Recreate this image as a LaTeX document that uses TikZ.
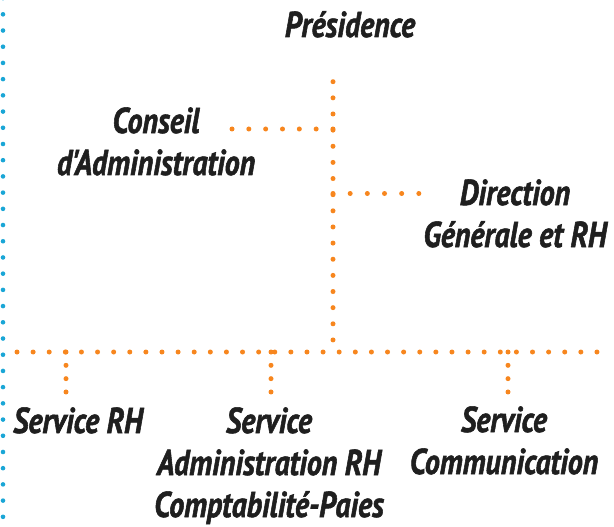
\documentclass[tikz,border=0pt]{standalone}
\usepackage{fontspec}
\newfontfamily\orgfont{PT Sans}[FakeStretch=0.83,FakeBold=1.5]
\definecolor{dotorange}{HTML}{F7861E}
\definecolor{dotblue}{HTML}{1AA6D6}
\begin{document}
\begin{tikzpicture}[x=1pt,y=-1pt,
  lbl/.style={inner sep=0pt,anchor=base,align=center,
    font=\orgfont\bfseries\itshape\fontsize{36}{42}\selectfont,text=black!88},
  odots/.style={draw=dotorange,line width=5pt,line cap=round,dash pattern=on 0pt off #1},
  bdots/.style={draw=dotblue,line width=4.6pt,line cap=round,dash pattern=on 0pt off 16.21pt}]
\useasboundingbox (0,0) rectangle (614,527);
% coordinates
\coordinate (btop) at (3,-1.9);
\coordinate (bbot) at (3,530);
\coordinate (ptop) at (333,81.7);
\coordinate (pbot) at (333,340);
\coordinate (cl) at (232,129);
\coordinate (cr) at (333,129);
\coordinate (dl) at (333,193.5);
\coordinate (dr) at (436,193.5);
\coordinate (busl) at (17,352);
\coordinate (busr) at (597,352);
\coordinate (t1) at (66,352);
\coordinate (b1) at (66,392);
\coordinate (t2) at (271,352);
\coordinate (b2) at (271,392);
\coordinate (t3) at (508,352);
\coordinate (b3) at (508,392);
% labels (base anchor = baseline of the last line)
\node[lbl] (pres) at (350,37) {Présidence};
\node[lbl] (ca) at (156,175) {Conseil\\d'Administration};
\node[lbl] (dg) at (515,247) {Direction\\Générale et RH};
\node[lbl] (srh) at (78,433) {Service RH};
\node[lbl] (sadm) at (269,517) {Service\\Administration RH\\Comptabilité-Paies};
\node[lbl] (scom) at (504,474) {Service\\Communication};
% dotted lines
\draw[bdots] (btop) -- (bbot);
\draw[odots=16.14pt] (ptop) -- (pbot);
\draw[odots=16.83pt] (cl) -- (cr);
\draw[odots=17.17pt] (dl) -- (dr);
\draw[odots=16.11pt] (busl) -- (busr);
\draw[odots=13.33pt] (t1) -- (b1);
\draw[odots=13.33pt] (t2) -- (b2);
\draw[odots=13.33pt] (t3) -- (b3);
\end{tikzpicture}
\end{document}
